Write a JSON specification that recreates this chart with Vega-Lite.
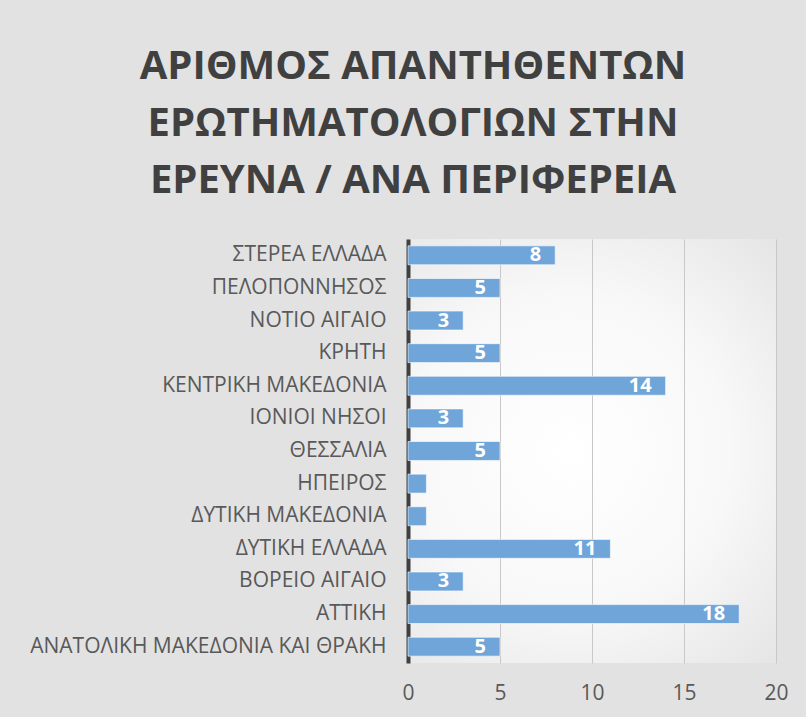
{
  "$schema": "https://vega.github.io/schema/vega-lite/v6.json",
  "width": 368,
  "height": 424,
  "autosize": {"type": "none"},
  "padding": {"left": 408, "top": 239, "right": 30, "bottom": 54},
  "background": "#e2e2e2",
  "title": {
    "text": ["ΑΡΙΘΜΟΣ ΑΠΑΝΤΗΘΕΝΤΩΝ", "ΕΡΩΤΗΜΑΤΟΛΟΓΙΩΝ ΣΤΗΝ", "ΕΡΕΥΝΑ / ΑΝΑ ΠΕΡΙΦΕΡΕΙΑ"],
    "font": "Open Sans",
    "fontSize": 40,
    "fontWeight": "bold",
    "color": "#404040",
    "lineHeight": 57,
    "anchor": "middle",
    "dx": -179,
    "offset": 38
  },
  "data": {
    "values": [
      {"region": "ΣΤΕΡΕΑ ΕΛΛΑΔΑ", "value": 8},
      {"region": "ΠΕΛΟΠΟΝΝΗΣΟΣ", "value": 5},
      {"region": "ΝΟΤΙΟ ΑΙΓΑΙΟ", "value": 3},
      {"region": "ΚΡΗΤΗ", "value": 5},
      {"region": "ΚΕΝΤΡΙΚΗ ΜΑΚΕΔΟΝΙΑ", "value": 14},
      {"region": "ΙΟΝΙΟΙ ΝΗΣΟΙ", "value": 3},
      {"region": "ΘΕΣΣΑΛΙΑ", "value": 5},
      {"region": "ΗΠΕΙΡΟΣ", "value": 1},
      {"region": "ΔΥΤΙΚΗ ΜΑΚΕΔΟΝΙΑ", "value": 1},
      {"region": "ΔΥΤΙΚΗ ΕΛΛΑΔΑ", "value": 11},
      {"region": "ΒΟΡΕΙΟ ΑΙΓΑΙΟ", "value": 3},
      {"region": "ΑΤΤΙΚΗ", "value": 18},
      {"region": "ΑΝΑΤΟΛΙΚΗ ΜΑΚΕΔΟΝΙΑ ΚΑΙ ΘΡΑΚΗ", "value": 5}
    ]
  },
  "encoding": {
    "y": {
      "field": "region",
      "type": "nominal",
      "sort": null,
      "scale": {"paddingInner": 0.42, "paddingOuter": 0.21},
      "axis": {
        "title": null,
        "ticks": false,
        "domain": true,
        "domainColor": "#404040",
        "domainWidth": 4,
        "labelFont": "Open Sans",
        "labelFontSize": 21,
        "labelColor": "#595959",
        "labelPadding": 22,
        "labelLimit": 420
      }
    },
    "x": {
      "field": "value",
      "type": "quantitative",
      "scale": {"domain": [0, 20], "nice": false},
      "axis": {
        "title": null,
        "values": [0, 5, 10, 15, 20],
        "ticks": false,
        "domain": false,
        "grid": true,
        "gridColor": "#c8c8c8",
        "gridWidth": 1,
        "labelFlush": false,
        "labelFont": "Open Sans",
        "labelFontSize": 21,
        "labelColor": "#595959",
        "labelPadding": 19
      }
    }
  },
  "layer": [
    {
      "mark": {
        "type": "bar",
        "color": "#6fa5d9",
        "stroke": "#ffffff",
        "strokeWidth": 1,
        "strokeOpacity": 0.6
      }
    },
    {
      "transform": [{"filter": "datum.value > 1"}],
      "mark": {
        "type": "text",
        "align": "right",
        "baseline": "middle",
        "dx": -14,
        "font": "Open Sans",
        "fontSize": 20,
        "fontWeight": "bold",
        "color": "#ffffff"
      },
      "encoding": {"text": {"field": "value", "type": "quantitative"}}
    }
  ],
  "config": {
    "view": {
      "stroke": null,
      "fill": {
        "gradient": "radial",
        "x1": 0.45, "y1": 0.5, "r1": 0,
        "x2": 0.45, "y2": 0.5, "r2": 0.75,
        "stops": [
          {"offset": 0, "color": "#ffffff"},
          {"offset": 0.5, "color": "#f8f8f8"},
          {"offset": 1, "color": "#e2e2e2"}
        ]
      }
    }
  }
}
